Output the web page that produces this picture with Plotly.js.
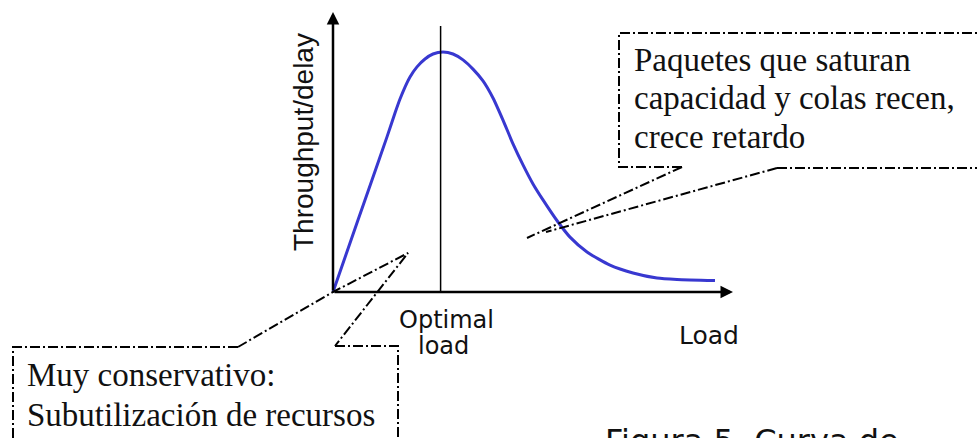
<!DOCTYPE html>
<html>
<head>
<meta charset="utf-8">
<script src="https://cdn.plot.ly/plotly-3.0.1.min.js"></script>
<style>
  html, body { margin: 0; padding: 0; background: #ffffff; }
  #chart { width: 977px; height: 438px; }
</style>
</head>
<body>
<div id="chart"></div>
<script>
// ---- data ----
const load = [0, 6.25, 9.75, 13.5, 15.5, 16.75, 18, 19.25, 21, 23, 25, 27.5, 30, 32.5, 35, 37.5, 40, 42.5, 45, 47.5, 50, 52.5, 56.25, 59.25, 63.5, 69.25, 75, 81, 86, 95.5];
const throughput = [0, 25.7, 40, 55.4, 63.9, 68.9, 73.2, 76.8, 80.4, 83.2, 85, 85.7, 85, 82.9, 79.6, 75.4, 69.3, 61.4, 52.9, 45.4, 38.6, 32.9, 25, 19.6, 14.3, 9.6, 6.8, 5, 4.5, 4.1];
const optimalLoad = 26.9;
const optimalTop = 95;
const axisMaxX = 100;
const axisMaxY = 100;

const yAxisLabel = 'Throughput/delay';
const optimalLabel = ['Optimal', 'load'];
const xAxisLabel = 'Load';
const noteHigh = ['Paquetes que saturan', 'capacidad y colas recen,', 'crece retardo'];
const noteLow = ['Muy conservativo:', 'Subutilización de recursos'];
const caption = 'Figura 5. Curva de';

// ---- layout helpers (figure pixels -> paper) ----
const W = 977, H = 438;
const px = (x) => x / W;
const py = (y) => 1 - y / H;
function path(pts) {
  return pts.map((p, i) => (i ? 'L ' : 'M ') + px(p[0]).toFixed(5) + ',' + py(p[1]).toFixed(5)).join(' ');
}
const dashLine = { color: '#000', width: 2, dash: '10px,3px,2px,3px' };

const traces = [
  {
    x: load, y: throughput, type: 'scatter', mode: 'lines',
    line: { color: '#3838d0', width: 3, shape: 'spline', smoothing: 0.6 },
    hoverinfo: 'skip'
  },
  {
    x: [optimalLoad, optimalLoad], y: [0, optimalTop], type: 'scatter', mode: 'lines',
    line: { color: '#000', width: 1.5 }, hoverinfo: 'skip'
  }
];

const shapes = [
  // upper-right note box (open where the pointer leaves it)
  { type: 'path', xref: 'paper', yref: 'paper', path: path([[682,167],[619,167],[619,33],[990,33]]), line: dashLine },
  { type: 'path', xref: 'paper', yref: 'paper', path: path([[777,168],[990,168]]), line: dashLine },
  { type: 'path', xref: 'paper', yref: 'paper', path: path([[682,167],[527,238]]), line: dashLine },
  { type: 'path', xref: 'paper', yref: 'paper', path: path([[777,168],[546,232]]), line: dashLine },
  // lower-left note box
  { type: 'path', xref: 'paper', yref: 'paper', path: path([[238,347],[13,347],[13,450]]), line: dashLine },
  { type: 'path', xref: 'paper', yref: 'paper', path: path([[335,346],[398,346],[398,450]]), line: dashLine },
  { type: 'path', xref: 'paper', yref: 'paper', path: path([[238,347],[333,292],[408,253],[335,346]]), line: dashLine }
];

const serif = { family: 'Liberation Serif, Times New Roman, serif', size: 33, color: '#111' };
const sans = (s) => ({ family: 'DejaVu Sans, Verdana, sans-serif', size: s, color: '#111' });

function textLines(lines, x, tops, font) {
  return lines.map((t, i) => ({
    x: px(x), y: py(tops[i]), xref: 'paper', yref: 'paper', text: t, showarrow: false,
    xanchor: 'left', yanchor: 'top', align: 'left', font: font
  }));
}

const annotations = [
  // axes with arrowheads
  { x: axisMaxX, y: 0, ax: 0, ay: 0, xref: 'x', yref: 'y', axref: 'x', ayref: 'y',
    text: '', showarrow: true, arrowhead: 2, arrowsize: 1, arrowwidth: 2.5, arrowcolor: '#000' },
  { x: 0, y: axisMaxY, ax: 0, ay: 0, xref: 'x', yref: 'y', axref: 'x', ayref: 'y',
    text: '', showarrow: true, arrowhead: 2, arrowsize: 1, arrowwidth: 2.5, arrowcolor: '#000' },
  // axis texts
  { x: px(303.5), y: py(142.5), xref: 'paper', yref: 'paper', text: yAxisLabel, textangle: -90,
    showarrow: false, xanchor: 'center', yanchor: 'middle',
    font: { family: 'Liberation Sans, Arial, sans-serif', size: 28, color: '#111' } },
  { x: px(446), y: py(304), xref: 'paper', yref: 'paper', text: optimalLabel[0], showarrow: false,
    xanchor: 'center', yanchor: 'top', font: sans(24) },
  { x: px(443), y: py(330), xref: 'paper', yref: 'paper', text: optimalLabel[1], showarrow: false,
    xanchor: 'center', yanchor: 'top', font: sans(24) },
  { x: px(709), y: py(319), xref: 'paper', yref: 'paper', text: xAxisLabel, showarrow: false,
    xanchor: 'center', yanchor: 'top', font: sans(25) },
  // caption (cut off at the bottom edge, as in the reference)
  { x: px(603), y: py(420), xref: 'paper', yref: 'paper', text: caption, showarrow: false,
    xanchor: 'left', yanchor: 'top', font: sans(32) }
].concat(
  textLines(noteHigh, 632, [39.6, 78.1, 116.6], serif),
  textLines(noteLow, 25, [354.6, 394.6], serif)
);

const layout = {
  width: W, height: H,
  margin: { l: 0, r: 0, t: 0, b: 0, pad: 0 },
  paper_bgcolor: '#ffffff', plot_bgcolor: '#ffffff',
  showlegend: false,
  xaxis: { range: [-83.25, 161], visible: false, fixedrange: true },
  yaxis: { range: [-52.142857, 104.285714], visible: false, fixedrange: true },
  shapes: shapes,
  annotations: annotations
};

Plotly.newPlot('chart', traces, layout, { displayModeBar: false, staticPlot: true });
</script>
</body>
</html>
